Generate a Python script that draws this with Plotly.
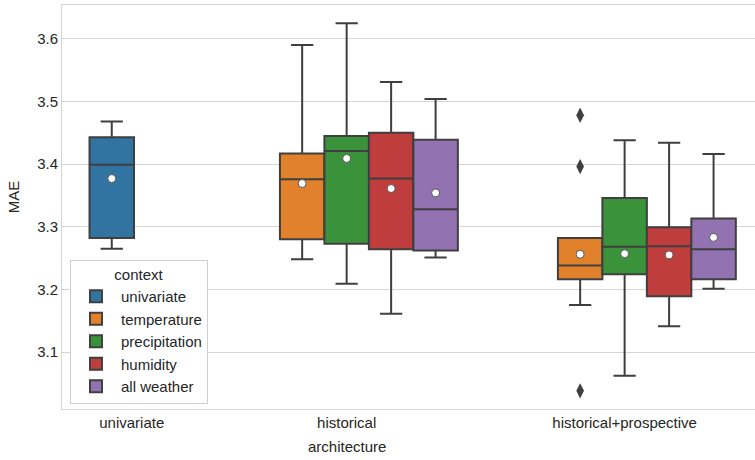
import plotly.graph_objects as go

# ---- data ----
categories = ["univariate", "historical", "historical+prospective"]
category_pos = [0.227, 1.0, 2.0]
contexts = ["univariate", "temperature", "precipitation", "humidity", "all weather"]
colors = ["#3274a1", "#e1812c", "#3a923a", "#c03d3e", "#9372b2"]
hue_offset = [-0.072, -0.16, 0.0, 0.16, 0.32]

# per context: category index list and stats
box_cat = {
    "univariate": [0],
    "temperature": [1, 2],
    "precipitation": [1, 2],
    "humidity": [1, 2],
    "all weather": [1, 2],
}
q1 = {
    "univariate": [3.282],
    "temperature": [3.280, 3.216],
    "precipitation": [3.273, 3.224],
    "humidity": [3.264, 3.189],
    "all weather": [3.262, 3.216],
}
median = {
    "univariate": [3.399],
    "temperature": [3.376, 3.238],
    "precipitation": [3.421, 3.268],
    "humidity": [3.377, 3.269],
    "all weather": [3.328, 3.264],
}
q3 = {
    "univariate": [3.443],
    "temperature": [3.417, 3.282],
    "precipitation": [3.445, 3.346],
    "humidity": [3.450, 3.299],
    "all weather": [3.439, 3.313],
}
lower_whisker = {
    "univariate": [3.265],
    "temperature": [3.248, 3.175],
    "precipitation": [3.209, 3.062],
    "humidity": [3.161, 3.141],
    "all weather": [3.251, 3.201],
}
upper_whisker = {
    "univariate": [3.468],
    "temperature": [3.590, 3.282],
    "precipitation": [3.625, 3.438],
    "humidity": [3.531, 3.434],
    "all weather": [3.504, 3.416],
}
means = {
    "univariate": [3.377],
    "temperature": [3.369, 3.256],
    "precipitation": [3.409, 3.257],
    "humidity": [3.361, 3.255],
    "all weather": [3.354, 3.283],
}
# outliers: (context, category index, values)
outlier_context = "temperature"
outlier_cat = 2
outlier_values = [3.478, 3.396, 3.038]

y_ticks = [3.1, 3.2, 3.3, 3.4, 3.5, 3.6]

FONT = "Liberation Sans, Arial, sans-serif"
EDGE = "#3f3f3f"
BOX_W = 0.16

fig = go.Figure()

for i, ctx in enumerate(contexts):
    xs = [category_pos[c] + hue_offset[i] for c in box_cat[ctx]]
    fig.add_trace(go.Box(
        name=ctx,
        x=xs,
        q1=q1[ctx], median=median[ctx], q3=q3[ctx],
        lowerfence=lower_whisker[ctx], upperfence=upper_whisker[ctx],
        width=BOX_W,
        whiskerwidth=0.5,
        fillcolor=colors[i],
        line=dict(color=EDGE, width=2),
        legendgroup=ctx,
        showlegend=True,
    ))

# mean markers
for i, ctx in enumerate(contexts):
    xs = [category_pos[c] + hue_offset[i] for c in box_cat[ctx]]
    fig.add_trace(go.Scatter(
        x=xs, y=means[ctx], mode="markers",
        marker=dict(symbol="circle", size=8, color="white",
                    line=dict(color="#555555", width=1)),
        showlegend=False, hoverinfo="y",
    ))

# outliers
oi = contexts.index(outlier_context)
fig.add_trace(go.Scatter(
    x=[category_pos[outlier_cat] + hue_offset[oi]] * len(outlier_values),
    y=outlier_values, mode="markers",
    marker=dict(symbol="diamond-tall", size=11, color=EDGE, line=dict(width=0)),
    showlegend=False, hoverinfo="y",
))

GRID = "#d5d5d5"
fig.update_layout(
    width=755, height=460,
    margin=dict(l=62, r=0, t=5, b=51),
    paper_bgcolor="white", plot_bgcolor="white",
    font=dict(family=FONT, size=15, color="#262626"),
    boxmode="overlay",
    showlegend=True,
    legend=dict(
        title=dict(text="context", side="top center", font=dict(size=15)),
        x=0.0115, xanchor="left", y=0.37, yanchor="top",
        bgcolor="white", bordercolor="#d0d0d0", borderwidth=1,
        font=dict(size=15), tracegroupgap=0, itemwidth=40,
    ),
    xaxis=dict(
        range=[-0.024, 2.469],
        tickmode="array", tickvals=category_pos, ticktext=categories,
        showgrid=False, zeroline=False,
        showline=True, linecolor=GRID, linewidth=1, mirror=True,
        ticks="", ticklen=0,
        tickfont=dict(size=15),
    ),
    yaxis=dict(
        range=[3.009, 3.654],
        tickmode="array", tickvals=y_ticks, ticktext=[f"{v:.1f}" for v in y_ticks],
        showgrid=True, gridcolor=GRID, gridwidth=1, zeroline=False,
        showline=True, linecolor=GRID, linewidth=1,
        ticks="", tickfont=dict(size=15),
    ),
    annotations=[
        dict(text="architecture", x=category_pos[1], xref="x", y=-0.094, yref="paper",
             yanchor="middle", showarrow=False, font=dict(size=15)),
        dict(text="MAE", x=0, xref="paper", xanchor="center", xshift=-49,
             y=0.524, yref="paper", textangle=-90, showarrow=False, font=dict(size=15)),
    ],
)

fig.write_html("out.html",
               config={"displayModeBar": False},
               post_script="document.body.style.margin='0';document.body.style.overflow='hidden';")
